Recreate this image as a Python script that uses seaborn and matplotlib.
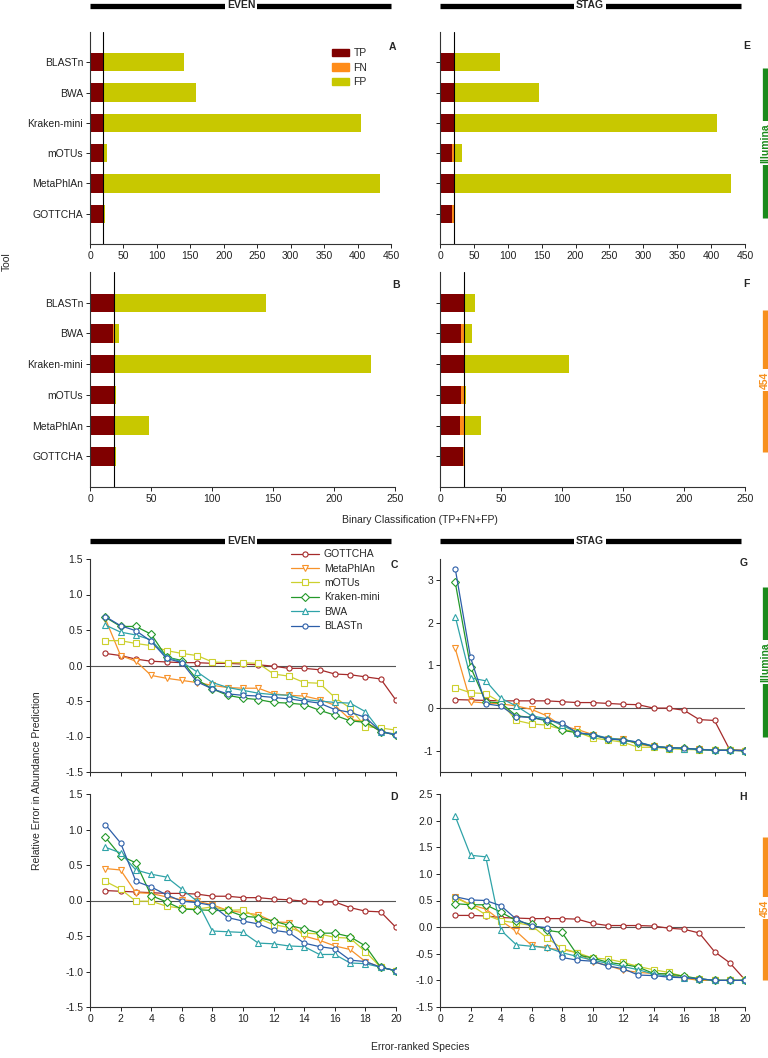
import numpy as np
import pandas as pd
import matplotlib
matplotlib.use("Agg")
import matplotlib.pyplot as plt
import seaborn as sns
from matplotlib.lines import Line2D
from matplotlib.patches import Patch

sns.set_style("ticks")
plt.rcParams["font.family"] = ["Liberation Sans", "DejaVu Sans"]
plt.rcParams["axes.unicode_minus"] = False

# ---------------- data ----------------
tools = ["BLASTn", "BWA", "Kraken-mini", "mOTUs", "MetaPhlAn", "GOTTCHA"]

# A: EVEN / Illumina
tp_even_ill = [20, 20, 20, 20, 20, 20]
fn_even_ill = [0, 0, 0, 0, 0, 0]
fp_even_ill = [121, 138, 385, 6, 414, 3]
# E: STAG / Illumina
tp_stag_ill = [20, 20, 20, 18, 20, 18]
fn_stag_ill = [0, 0, 0, 2, 0, 2]
fp_stag_ill = [68, 126, 388, 12, 409, 0]
# B: EVEN / 454
tp_even_454 = [20, 19, 20, 20, 20, 20]
fn_even_454 = [0, 1, 0, 0, 0, 0]
fp_even_454 = [124, 4, 210, 1, 28, 1]
# F: STAG / 454
tp_stag_454 = [20, 17, 20, 17, 16, 19]
fn_stag_454 = [0, 3, 0, 3, 4, 1]
fp_stag_454 = [9, 6, 86, 1, 14, 0]

species = list(range(1, 21))
series_names = ["GOTTCHA", "MetaPhlAn", "mOTUs", "Kraken-mini", "BWA", "BLASTn"]

# C: EVEN / Illumina relative error
c_gottcha = [0.17, 0.14, 0.09, 0.06, 0.05, 0.04, 0.04, 0.03, 0.03, 0.02, 0.01, -0.01, -0.04, -0.04, -0.06, -0.12, -0.13, -0.16, -0.19, -0.49]
c_metaphlan = [0.66, 0.14, 0.06, -0.14, -0.18, -0.21, -0.24, -0.28, -0.31, -0.32, -0.32, -0.40, -0.42, -0.43, -0.48, -0.56, -0.76, -0.79, -0.93, -0.97]
c_motus = [0.35, 0.35, 0.31, 0.28, 0.21, 0.17, 0.14, 0.05, 0.04, 0.04, 0.03, -0.12, -0.15, -0.24, -0.25, -0.45, -0.60, -0.86, -0.88, -0.91]
c_kraken = [0.68, 0.55, 0.55, 0.44, 0.12, 0.07, -0.20, -0.33, -0.42, -0.46, -0.48, -0.52, -0.53, -0.55, -0.63, -0.70, -0.78, -0.80, -0.93, -0.98]
c_bwa = [0.57, 0.47, 0.43, 0.36, 0.12, 0.05, -0.09, -0.24, -0.31, -0.35, -0.39, -0.41, -0.42, -0.48, -0.50, -0.52, -0.53, -0.65, -0.93, -0.97]
c_blastn = [0.69, 0.56, 0.49, 0.34, 0.10, 0.04, -0.23, -0.33, -0.40, -0.42, -0.43, -0.45, -0.47, -0.50, -0.53, -0.62, -0.66, -0.73, -0.93, -0.98]

# D: EVEN / 454 relative error
d_gottcha = [0.14, 0.13, 0.12, 0.11, 0.10, 0.10, 0.09, 0.06, 0.06, 0.04, 0.04, 0.02, 0.01, -0.01, -0.02, -0.02, -0.10, -0.15, -0.16, -0.38]
d_metaphlan = [0.45, 0.43, 0.11, 0.10, 0.05, 0.01, -0.01, -0.06, -0.14, -0.17, -0.20, -0.30, -0.31, -0.50, -0.56, -0.64, -0.69, -0.86, -0.94, -0.99]
d_motus = [0.27, 0.16, -0.01, -0.01, -0.08, -0.11, -0.12, -0.09, -0.14, -0.13, -0.25, -0.34, -0.38, -0.46, -0.47, -0.52, -0.53, -0.72, -0.94, -0.99]
d_kraken = [0.89, 0.63, 0.53, 0.07, -0.02, -0.12, -0.13, -0.14, -0.14, -0.22, -0.24, -0.29, -0.35, -0.40, -0.46, -0.46, -0.51, -0.64, -0.94, -0.99]
d_bwa = [0.75, 0.67, 0.43, 0.37, 0.33, 0.16, -0.01, -0.43, -0.44, -0.45, -0.60, -0.61, -0.64, -0.65, -0.76, -0.76, -0.88, -0.89, -0.94, -0.99]
d_blastn = [1.07, 0.81, 0.27, 0.19, 0.08, -0.01, -0.03, -0.07, -0.24, -0.29, -0.33, -0.42, -0.45, -0.60, -0.65, -0.68, -0.84, -0.86, -0.94, -0.99]

# G: STAG / Illumina relative error
g_gottcha = [0.20, 0.19, 0.18, 0.17, 0.17, 0.17, 0.17, 0.15, 0.13, 0.13, 0.11, 0.09, 0.08, 0.00, 0.00, -0.05, -0.27, -0.29, -0.98, -0.99]
g_metaphlan = [1.40, 0.15, 0.12, 0.10, 0.05, -0.03, -0.18, -0.42, -0.50, -0.62, -0.72, -0.72, -0.85, -0.90, -0.93, -0.95, -0.97, -0.98, -0.99, -1.00]
g_motus = [0.48, 0.36, 0.34, 0.13, -0.29, -0.37, -0.40, -0.50, -0.56, -0.70, -0.75, -0.80, -0.92, -0.92, -0.95, -0.97, -0.98, -0.99, -0.99, -1.00]
g_kraken = [2.95, 0.97, 0.15, 0.12, -0.18, -0.22, -0.30, -0.52, -0.58, -0.64, -0.72, -0.75, -0.82, -0.90, -0.93, -0.94, -0.97, -0.99, -0.99, -1.00]
g_bwa = [2.15, 0.71, 0.64, 0.23, 0.05, -0.18, -0.25, -0.40, -0.58, -0.62, -0.70, -0.74, -0.80, -0.89, -0.93, -0.95, -0.97, -0.99, -0.99, -1.00]
g_blastn = [3.27, 1.19, 0.10, 0.05, -0.20, -0.22, -0.28, -0.35, -0.58, -0.62, -0.72, -0.75, -0.80, -0.90, -0.93, -0.94, -0.97, -0.99, -0.99, -1.00]

# H: STAG / 454 relative error
h_gottcha = [0.22, 0.22, 0.21, 0.18, 0.17, 0.16, 0.16, 0.16, 0.15, 0.07, 0.03, 0.03, 0.03, 0.02, -0.02, -0.04, -0.11, -0.46, -0.67, -0.99]
h_metaphlan = [0.57, 0.42, 0.34, 0.12, -0.08, -0.34, -0.40, -0.42, -0.48, -0.65, -0.72, -0.81, -0.85, -0.87, -0.88, -0.96, -1.00, -1.00, -1.00, -1.00]
h_motus = [0.55, 0.42, 0.23, 0.12, 0.08, 0.03, -0.20, -0.40, -0.48, -0.58, -0.60, -0.66, -0.74, -0.80, -0.85, -0.93, -0.97, -1.00, -1.00, -1.00]
h_kraken = [0.44, 0.42, 0.42, 0.28, 0.12, 0.05, -0.06, -0.10, -0.52, -0.58, -0.66, -0.70, -0.75, -0.87, -0.88, -0.92, -0.97, -1.00, -1.00, -1.00]
h_bwa = [2.08, 1.35, 1.32, -0.06, -0.33, -0.36, -0.38, -0.48, -0.55, -0.62, -0.68, -0.74, -0.80, -0.88, -0.92, -0.95, -0.97, -1.00, -1.00, -1.00]
h_blastn = [0.57, 0.51, 0.50, 0.40, 0.15, 0.02, -0.01, -0.57, -0.62, -0.64, -0.73, -0.78, -0.90, -0.91, -0.94, -0.95, -0.97, -1.00, -1.00, -1.00]

# ---------------- style ----------------
TP_C, FN_C, FP_C = "#800000", "#FF8C1A", "#C8C800"
line_colors = {"GOTTCHA": "#A52A2A", "MetaPhlAn": "#F7922A", "mOTUs": "#CCD02E",
               "Kraken-mini": "#24992A", "BWA": "#2FA3A8", "BLASTn": "#2C5EA8"}
line_markers = {"GOTTCHA": "o", "MetaPhlAn": "v", "mOTUs": "s",
                "Kraken-mini": "D", "BWA": "^", "BLASTn": "o"}
FS = 7.5


def msize(name):
    return 3.9 if line_markers[name] == "D" else 3.7


W, H = 768, 1058
fig = plt.figure(figsize=(W / 100, H / 100), dpi=100)


def add_ax(l, r, t, b):
    return fig.add_axes([l / W, 1 - b / H, (r - l) / W, (b - t) / H])


def style_ax(ax):
    for s in ["top", "right"]:
        ax.spines[s].set_visible(False)
    for s in ["left", "bottom"]:
        ax.spines[s].set_linewidth(0.8)
        ax.spines[s].set_color("#333333")
    ax.tick_params(length=3, width=0.7, labelsize=FS, colors="#222222", pad=2)
    ax.set_xlabel("")
    ax.set_ylabel("")


def bar_panel(ax, tp, fn, fp, xmax, letter, ylabels, ly):
    df = pd.DataFrame({"Tool": tools, "TP": tp, "FN": fn, "FP": fp})
    df["TPFN"] = df["TP"] + df["FN"]
    df["ALL"] = df["TPFN"] + df["FP"]
    for col, c, lab in [("ALL", FP_C, "FP"), ("TPFN", FN_C, "FN"), ("TP", TP_C, "TP")]:
        sns.barplot(data=df, x=col, y="Tool", order=tools, color=c, width=0.6,
                    saturation=1, errorbar=None, ax=ax, linewidth=0, label=lab)
    ax.set_ylim(6, -1)
    ax.set_xlim(0, xmax)
    ax.set_xticks(range(0, xmax + 1, 50))
    ax.axvline(20, color="black", lw=0.8, zorder=5)
    style_ax(ax)
    if not ylabels:
        ax.set_yticklabels([])
    leg = ax.get_legend()
    if leg:
        leg.remove()
    ax.text(1.005, ly, letter, transform=ax.transAxes, ha="center", va="center",
            fontsize=FS, fontweight="bold")


def line_panel(ax, data, ylim, yticks, fmt, letter, xlabels, ly):
    ax.axhline(0, color="#555555", lw=0.8, zorder=1)
    for name in series_names:
        c = line_colors[name]
        sns.lineplot(x=species, y=data[name], color=c, marker=line_markers[name],
                     mfc="white", mec=c, mew=0.8, ms=msize(name),
                     lw=0.9, label=name, ax=ax, zorder=3)
    ax.set_xlim(0, 20)
    ax.set_xticks(range(0, 21, 2))
    ax.set_ylim(*ylim)
    ax.set_yticks(yticks)
    ax.set_yticklabels([fmt.format(v) for v in yticks])
    style_ax(ax)
    if not xlabels:
        ax.set_xticklabels([])
    leg = ax.get_legend()
    if leg:
        leg.remove()
    ax.text(0.995, ly, letter, transform=ax.transAxes, ha="center", va="center",
            fontsize=FS, fontweight="bold")


# ---------------- bar panels ----------------
axA = add_ax(90, 391, 32, 244)
bar_panel(axA, tp_even_ill, fn_even_ill, fp_even_ill, 450, "A", True, 0.93)
axE = add_ax(440, 745, 32, 244)
bar_panel(axE, tp_stag_ill, fn_stag_ill, fp_stag_ill, 450, "E", False, 0.934)
axB = add_ax(90, 395, 272, 487)
bar_panel(axB, tp_even_454, fn_even_454, fp_even_454, 250, "B", True, 0.94)
axF = add_ax(440, 745, 272, 487)
bar_panel(axF, tp_stag_454, fn_stag_454, fp_stag_454, 250, "F", False, 0.944)

handles = [Patch(color=TP_C, label="TP"), Patch(color=FN_C, label="FN"), Patch(color=FP_C, label="FP")]
axA.legend(handles=handles, loc="upper right", bbox_to_anchor=(0.935, 0.945), frameon=False,
           fontsize=FS, handlelength=1.65, handleheight=0.7, labelspacing=0.45,
           handletextpad=0.4, borderaxespad=0)

# ---------------- line panels ----------------
data_C = dict(zip(series_names, [c_gottcha, c_metaphlan, c_motus, c_kraken, c_bwa, c_blastn]))
data_D = dict(zip(series_names, [d_gottcha, d_metaphlan, d_motus, d_kraken, d_bwa, d_blastn]))
data_G = dict(zip(series_names, [g_gottcha, g_metaphlan, g_motus, g_kraken, g_bwa, g_blastn]))
data_H = dict(zip(series_names, [h_gottcha, h_metaphlan, h_motus, h_kraken, h_bwa, h_blastn]))

axC = add_ax(90, 396, 559, 772)
line_panel(axC, data_C, (-1.5, 1.5), np.arange(-1.5, 1.51, 0.5), "{:.1f}", "C", False, 0.97)
axD = add_ax(90, 396, 794, 1007)
line_panel(axD, data_D, (-1.5, 1.5), np.arange(-1.5, 1.51, 0.5), "{:.1f}", "D", True, 0.986)
axG = add_ax(440, 745, 559, 772)
line_panel(axG, data_G, (-1.5, 3.5), [-1, 0, 1, 2, 3], "{:d}", "G", False, 0.98)
axH = add_ax(440, 745, 794, 1007)
line_panel(axH, data_H, (-1.5, 2.5), np.arange(-1.5, 2.51, 0.5), "{:.1f}", "H", True, 0.986)

lh = [Line2D([], [], color=line_colors[n], marker=line_markers[n], mfc="white", mec=line_colors[n],
             mew=0.8, ms=msize(n), lw=0.9, label=n) for n in series_names]
axC.legend(handles=lh, loc="upper right", bbox_to_anchor=(0.96, 1.065), frameon=False,
           fontsize=FS, handlelength=2.7, labelspacing=0.42, handletextpad=0.5, borderaxespad=0)

# ---------------- annotations ----------------
def hbar(x0, x1, y, label, xc):
    fig.add_artist(Line2D([x0 / W, x1 / W], [1 - y / H, 1 - y / H], transform=fig.transFigure,
                          color="black", lw=3.8, solid_capstyle="butt"))
    fig.text(xc / W, 1 - y / H, label, ha="center", va="center", fontsize=FS, fontweight="bold",
             bbox=dict(facecolor="white", edgecolor="none", pad=1.2))


hbar(90, 391, 5.5, "EVEN", 241)
hbar(440, 741, 5.5, "STAG", 590)
hbar(90, 391, 541, "EVEN", 241)
hbar(440, 741, 541, "STAG", 590)


def vbar(y0, y1, label, yc, color):
    fig.add_artist(Line2D([765 / W, 765 / W], [1 - y0 / H, 1 - y1 / H], transform=fig.transFigure,
                          color=color, lw=3.8, solid_capstyle="butt"))
    fig.text(765 / W, 1 - yc / H, label, ha="center", va="center", rotation=90, fontsize=FS,
             fontweight="bold", color=color,
             bbox=dict(facecolor="white", edgecolor="none", pad=1.5))


GREEN, ORANGE = "#1B8A1B", "#F7901E"
vbar(68, 218, "Illumina", 143, GREEN)
vbar(310, 452, "454", 380, ORANGE)
vbar(587, 737, "Illumina", 662, GREEN)
vbar(837, 980, "454", 908, ORANGE)

fig.text(7 / W, 1 - 262 / H, "Tool", rotation=90, ha="center", va="center", fontsize=FS)
fig.text(420 / W, 1 - 520 / H, "Binary Classification (TP+FN+FP)", ha="center", va="center", fontsize=FS)
fig.text(37 / W, 1 - 781 / H, "Relative Error in Abundance Prediction", rotation=90,
         ha="center", va="center", fontsize=FS)
fig.text(420 / W, 1 - 1047 / H, "Error-ranked Species", ha="center", va="center", fontsize=FS)

fig.savefig("out.png", dpi=100)
